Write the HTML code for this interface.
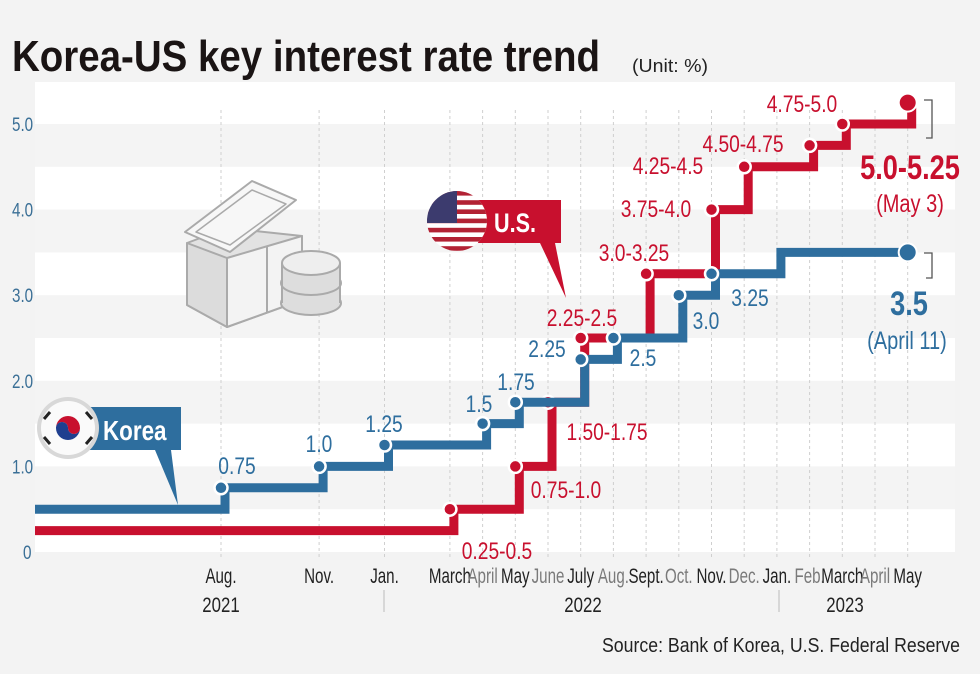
<!DOCTYPE html>
<html><head><meta charset="utf-8"><style>
html,body{margin:0;padding:0;background:#f3f3f3;}
svg{display:block;font-family:"Liberation Sans Narrow","Liberation Sans",sans-serif;}
</style></head><body>
<svg id="chart" width="980" height="674" viewBox="0 0 980 674" xmlns="http://www.w3.org/2000/svg">
<rect x="0" y="0" width="980" height="674" fill="#f3f3f3"/>
<text x="12" y="71" font-size="44" font-weight="bold" fill="#1a1414" textLength="588" lengthAdjust="spacingAndGlyphs">Korea-US key interest rate trend</text>
<text x="632" y="72" font-size="18" fill="#222" textLength="76" lengthAdjust="spacingAndGlyphs">(Unit: %)</text>
<rect x="35" y="82" width="920" height="470" fill="#ffffff"/>
<g id="bands"></g>
<g id="grid"></g>
<g id="yticks"></g>
<g fill="#e6e6e6" stroke="#aaa" stroke-width="2" stroke-linejoin="round">
<polygon points="187,243 227,228 302,236 302,300 227,327 187,305" fill="#e2e2e2"/>
<polygon points="187,243 227,258 227,327 187,305" fill="#dcdcdc"/>
<polygon points="227,258 302,236 302,300 227,327" fill="#f3f3f3"/>
<line x1="267" y1="247" x2="267" y2="313"/>
<polygon points="185,232 252,181 296,200 230,252" fill="#f7f7f7"/>
<polygon points="196,232 252,190 286,204 230,245" fill="none" stroke-width="1.5"/>
<ellipse cx="311" cy="303" rx="30" ry="12" fill="#ddd"/>
<rect x="281" y="283" width="60" height="20" fill="#ddd" stroke="none"/>
<ellipse cx="311" cy="283" rx="30" ry="12" fill="#ddd"/>
<rect x="282" y="263" width="58" height="20" fill="#ddd" stroke="none"/>
<line x1="282" y1="263" x2="282" y2="303"/><line x1="340" y1="263" x2="340" y2="303"/>
<ellipse cx="311" cy="263" rx="29" ry="12" fill="#eee"/>
</g>
<g id="lines"></g>
<g id="xticks"></g>
<line x1="384" y1="590" x2="384" y2="612" stroke="#bbb"/>
<line x1="779" y1="590" x2="779" y2="612" stroke="#bbb"/>
<text class="cond" x="221" y="612" font-size="21" fill="#222" text-anchor="middle">2021</text>
<text class="cond" x="583" y="612" font-size="21" fill="#222" text-anchor="middle">2022</text>
<text class="cond" x="845" y="612" font-size="21" fill="#222" text-anchor="middle">2023</text>
<g>
<path d="M88,407 H181 V450 H171 L178,505 L155,450 H88 Z" fill="#2e6e9e"/>
<circle cx="68" cy="428" r="31" fill="#d8d8d8"/>
<circle cx="68" cy="428" r="27" fill="#fafafa"/>
<path d="M56,428 a12,12 0 0 1 24,0 a6,6 0 0 1 -12,0 a6,6 0 0 0 -12,0z" fill="#c8102e"/>
<path d="M56,428 a12,12 0 0 0 24,0 a6,6 0 0 1 -12,0 a6,6 0 0 0 -12,0z" fill="#1f3f8f"/>
<g stroke="#222" stroke-width="3"><line x1="44" y1="419" x2="50" y2="412"/><line x1="86" y1="412" x2="92" y2="419"/><line x1="44" y1="437" x2="50" y2="444"/><line x1="86" y1="444" x2="92" y2="437"/></g>
<text class="cond" x="103" y="440" font-size="28" font-weight="bold" fill="#fff">Korea</text>
</g>
<g>
<path d="M478,200 H561 V243 H555 L566,298 L540,243 H478 Z" fill="#c8102e"/>
<clipPath id="fc"><circle cx="457" cy="221" r="30"/></clipPath>
<g clip-path="url(#fc)">
<rect x="427" y="191" width="60" height="60" fill="#fff"/>
<g fill="#b22234"><rect x="427" y="191" width="60" height="4.6"/><rect x="427" y="200.2" width="60" height="4.6"/><rect x="427" y="209.4" width="60" height="4.6"/><rect x="427" y="218.6" width="60" height="4.6"/><rect x="427" y="227.8" width="60" height="4.6"/><rect x="427" y="237" width="60" height="4.6"/><rect x="427" y="246.2" width="60" height="4.6"/></g>
<rect x="427" y="191" width="30" height="32" fill="#3c3b6e"/>
</g>
<text class="cond" x="494" y="232" font-size="27" font-weight="bold" fill="#fff">U.S.</text>
</g>
<g font-size="24" fill="#2e6e9e" text-anchor="middle">
<text class="cond" x="237" y="474">0.75</text><text class="cond" x="319" y="452">1.0</text><text class="cond" x="384" y="432">1.25</text>
<text class="cond" x="479" y="412">1.5</text><text class="cond" x="516" y="390">1.75</text><text class="cond" x="547" y="357">2.25</text>
<text class="cond" x="643" y="366">2.5</text><text class="cond" x="706" y="329">3.0</text><text class="cond" x="750" y="306">3.25</text>
<text class="cond" x="909" y="315" font-size="34" font-weight="bold">3.5</text>
<text class="cond" x="907" y="349" font-size="25">(April 11)</text>
</g>
<g font-size="24" fill="#c8102e" text-anchor="middle">
<text class="cond" x="497" y="559">0.25-0.5</text><text class="cond" x="566" y="498">0.75-1.0</text><text class="cond" x="607" y="440">1.50-1.75</text>
<text class="cond" x="582" y="326">2.25-2.5</text><text class="cond" x="634" y="261">3.0-3.25</text><text class="cond" x="656" y="217">3.75-4.0</text>
<text class="cond" x="668" y="174">4.25-4.5</text><text class="cond" x="743" y="152">4.50-4.75</text><text class="cond" x="802" y="112">4.75-5.0</text>
<text class="cond" x="910" y="179" font-size="34" font-weight="bold">5.0-5.25</text>
<text class="cond" x="910" y="212" font-size="25">(May 3)</text>
</g>
<path d="M924,100 H932 V138 H926" fill="none" stroke="#555" stroke-width="1.3"/>
<path d="M924,253 H932 V278 H926" fill="none" stroke="#555" stroke-width="1.3"/>
<text x="602" y="652" font-size="20" fill="#222" textLength="358" lengthAdjust="spacingAndGlyphs">Source: Bank of Korea, U.S. Federal Reserve</text>
</svg>
<script>
const yTickValues = [0, 1.0, 2.0, 3.0, 4.0, 5.0];
const yTickLabels = ["0", "1.0", "2.0", "3.0", "4.0", "5.0"];
const monthLabels = ["Aug.","Sept.","Oct.","Nov.","Dec.","Jan.","Feb.","March","April","May","June","July","Aug.","Sept.","Oct.","Nov.","Dec.","Jan.","Feb.","March","April","May"];
const shownMonths = [0,3,5,7,8,9,10,11,12,13,14,15,16,17,18,19,20,21];
const greyMonths = [8,10,12,14,16,18,20];
const koreaStart = 0.5;
const koreaMonths = [0, 3, 5, 8, 9, 11, 12, 14, 15, 17];
const koreaRates = [0.75, 1.0, 1.25, 1.5, 1.75, 2.25, 2.5, 3.0, 3.25, 3.5];
const koreaDotted = [1,1,1,1,1,1,1,1,1,0];
const usStart = 0.25;
const usMonths = [7, 9, 10, 11, 13, 15, 16, 18, 19, 21];
const usRates = [0.5, 1.0, 1.75, 2.5, 3.25, 4.0, 4.5, 4.75, 5.0, 5.25];
const endMonth = 21;

const NS = "http://www.w3.org/2000/svg";
const X = m => 221 + 32.7 * m;
const Y = v => 552 - 85.6 * v;
function mk(tag, attrs, parent){const e=document.createElementNS(NS,tag);for(const k in attrs)e.setAttribute(k,attrs[k]);parent.appendChild(e);return e;}

const bands=document.getElementById('bands');
for(let v=1; v<=5; v++){
  const r=mk('rect',{x:35,y:Y(v),width:920,height:Y(v-0.5)-Y(v),fill:'#f4f4f4'},bands);
  
  
}
const yt=document.getElementById('yticks');
yTickValues.forEach((v,i)=>{
  const t=mk('text',{x:i===0?23:12,y:Y(v)+7,'font-size':19,fill:'#3a6f96','class':'cond'},yt);
  t.textContent=yTickLabels[i];
  
  
});
const grid=document.getElementById('grid');
const xt=document.getElementById('xticks');
shownMonths.forEach(m=>{
  const l=mk('line',{x1:X(m),y1:110,x2:X(m),y2:558,stroke:'#cfcfcf','stroke-width':1,'stroke-dasharray':'3,3'},grid);
  
  
  const t=mk('text',{x:X(m),y:583,'font-size':21,'text-anchor':'middle','class':'cond mon',fill:greyMonths.includes(m)?'#7a7a7a':'#222'},xt);
  t.textContent=monthLabels[m];
  
  
});

const lines=document.getElementById('lines');
function series(start, months, rates, color, name, dotted){
  let d=`M35,${Y(start)}`;
  months.forEach((m,i)=>{ d+=` H${X(m)+4} V${Y(rates[i])}`; });
  d+=` H${X(endMonth)}`;
  const p=mk('path',{d:d,fill:'none',stroke:color,'stroke-width':9},lines);
  
  
  months.forEach((m,i)=>{
    if(dotted && !dotted[i]) return;
    const c=mk('circle',{cx:X(m),cy:Y(rates[i]),r:6.5,fill:color,stroke:'#fff','stroke-width':2.5},lines);
    
    
  });
  const last=rates[rates.length-1];
  const e=mk('circle',{cx:X(endMonth),cy:Y(last),r:9,fill:color,stroke:'#fff','stroke-width':2},lines);
  
  
}
series(usStart, usMonths, usRates, '#c8102e', 'us', null);
series(koreaStart, koreaMonths, koreaRates, '#2e6e9e', 'korea', koreaDotted);

document.querySelectorAll('text.cond').forEach(t=>{
  const len=t.getComputedTextLength();
  const f=t.classList.contains('mon')?0.72:0.8;
  t.setAttribute('textLength',(len*f).toFixed(1));
  t.setAttribute('lengthAdjust','spacingAndGlyphs');
});
</script>
</body></html>
